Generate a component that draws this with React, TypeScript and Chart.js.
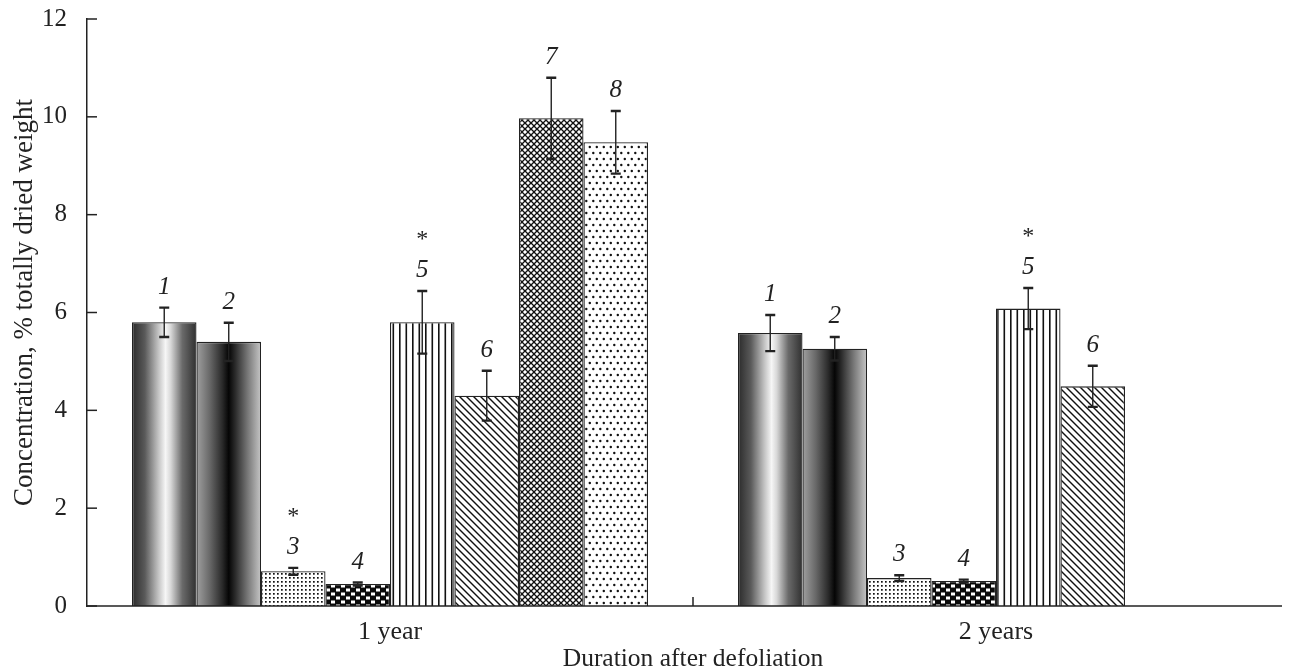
import React, { useEffect, useRef } from "react";
import { Chart, registerables } from "chart.js";

Chart.register(...registerables);

// ---------- data ----------
const categories = ["1 year", "2 years"];
const seriesNames = ["1", "2", "3", "4", "5", "6", "7", "8"];

const series1 = [5.8, 5.58];
const series2 = [5.4, 5.26];
const series3 = [0.71, 0.57];
const series4 = [0.45, 0.51];
const series5 = [5.8, 6.08];
const series6 = [4.3, 4.49];
const series7: (number | null)[] = [9.97, null];
const series8: (number | null)[] = [9.48, null];

const err1 = [0.3, 0.37];
const err2 = [0.39, 0.24];
const err3 = [0.07, 0.06];
const err4 = [0.03, 0.03];
const err5 = [0.64, 0.42];
const err6 = [0.51, 0.42];
const err7: (number | null)[] = [0.83, null];
const err8: (number | null)[] = [0.64, null];

// significance markers (*)
const star1 = [false, false];
const star2 = [false, false];
const star3 = [true, false];
const star4 = [false, false];
const star5 = [true, true];
const star6 = [false, false];
const star7 = [false, false];
const star8 = [false, false];

const yTicks = [0, 2, 4, 6, 8, 10, 12];

const xTitle = "Duration after defoliation";
const yTitle = "Concentration, % totally dried weight";

const allValues = [series1, series2, series3, series4, series5, series6, series7, series8];
const allErrors = [err1, err2, err3, err4, err5, err6, err7, err8];
const allStars = [star1, star2, star3, star4, star5, star6, star7, star8];

const CAT_PCT = 0.8515;
const FONT = "'Liberation Serif', 'Times New Roman', serif";
const INK = "#222";

// ---------- patterns ----------
function makeTile(w: number, h: number, draw: (c: CanvasRenderingContext2D) => void) {
  const cv = document.createElement("canvas");
  cv.width = w;
  cv.height = h;
  const c = cv.getContext("2d")!;
  c.fillStyle = "#fff";
  c.fillRect(0, 0, w, h);
  draw(c);
  return cv;
}

function buildPatterns(ctx: CanvasRenderingContext2D) {
  const dense = makeTile(4, 4, (c) => {
    c.fillStyle = "#111";
    c.fillRect(1, 1, 1.7, 1.7);
  });
  const checker = makeTile(10, 8, (c) => {
    c.fillStyle = "#0a0a0a";
    c.fillRect(0, 0, 10, 8);
    c.fillStyle = "#fff";
    c.fillRect(1, 0.5, 4, 3);
    c.fillRect(6, 4.5, 4, 3);
  });
  const vlines = makeTile(13, 2, (c) => {
    c.fillStyle = "#111";
    c.fillRect(2.5, 0, 1.6, 2);
    c.fillRect(9, 0, 1.6, 2);
  });
  const diag = makeTile(7, 7, (c) => {
    c.strokeStyle = "#111";
    c.lineWidth = 1.4;
    for (let k = -1; k <= 1; k++) {
      c.beginPath();
      c.moveTo(k * 7 - 1, -1);
      c.lineTo(k * 7 + 8, 8);
      c.stroke();
    }
  });
  const cross = makeTile(6, 6, (c) => {
    c.strokeStyle = "#111";
    c.lineWidth = 1.3;
    for (let k = -1; k <= 1; k++) {
      c.beginPath();
      c.moveTo(k * 6 - 1, -1);
      c.lineTo(k * 6 + 7, 7);
      c.stroke();
      c.beginPath();
      c.moveTo(k * 6 - 1, 7);
      c.lineTo(k * 6 + 7, -1);
      c.stroke();
    }
  });
  const sparse = makeTile(7, 12, (c) => {
    c.fillStyle = "#111";
    c.beginPath();
    c.arc(1.8, 3, 1.2, 0, Math.PI * 2);
    c.fill();
    c.beginPath();
    c.arc(5.3, 9, 1.2, 0, Math.PI * 2);
    c.fill();
  });
  return {
    dense: ctx.createPattern(dense, "repeat")!,
    checker: ctx.createPattern(checker, "repeat")!,
    vlines: ctx.createPattern(vlines, "repeat")!,
    diag: ctx.createPattern(diag, "repeat")!,
    cross: ctx.createPattern(cross, "repeat")!,
    sparse: ctx.createPattern(sparse, "repeat")!,
  };
}

const gradStops1: [number, string][] = [
  [0, "#2b2b2b"],
  [0.2, "#5a5a5a"],
  [0.42, "#c8c8c8"],
  [0.52, "#f6f6f6"],
  [0.6, "#d8d8d8"],
  [0.78, "#6a6a6a"],
  [1, "#303030"],
];
const gradStops2: [number, string][] = [
  [0, "#a0a0a0"],
  [0.2, "#6a6a6a"],
  [0.4, "#2a2a2a"],
  [0.5, "#050505"],
  [0.6, "#2a2a2a"],
  [0.8, "#7a7a7a"],
  [1, "#c6c6c6"],
];

function barGradient(ctx: any, stops: [number, string][]) {
  const chart = ctx.chart;
  const xs = chart.scales?.x;
  if (!xs || typeof ctx.dataIndex !== "number") return "#666";
  const n = chart.data.datasets.length;
  const catW = xs.width / chart.data.labels.length;
  const barW = (catW * CAT_PCT) / n;
  const center = xs.getPixelForValue(ctx.dataIndex);
  const left = center - (catW * CAT_PCT) / 2 + ctx.datasetIndex * barW;
  if (![left, barW].every((v) => Number.isFinite(v)) || barW <= 0) return "#666";
  const g = chart.ctx.createLinearGradient(left, 0, left + barW, 0);
  stops.forEach(([o, c]) => g.addColorStop(o, c));
  return g;
}

// ---------- plugins ----------
const decorPlugin = {
  id: "decor",
  afterDatasetsDraw(chart: any) {
    const { ctx } = chart;
    const ys = chart.scales.y;
    ctx.save();
    allValues.forEach((vals, i) => {
      const meta = chart.getDatasetMeta(i);
      meta.data.forEach((el: any, j: number) => {
        const v = vals[j];
        const e = allErrors[i][j];
        if (v === null || v === undefined) return;
        const x = el.x;
        const top = ys.getPixelForValue(v + (e || 0));
        const bot = ys.getPixelForValue(v - (e || 0));
        ctx.strokeStyle = INK;
        ctx.lineWidth = 1.4;
        ctx.beginPath();
        ctx.moveTo(x, top);
        ctx.lineTo(x, bot);
        ctx.stroke();
        ctx.lineWidth = 2.4;
        ctx.beginPath();
        ctx.moveTo(x - 5, top);
        ctx.lineTo(x + 5, top);
        ctx.moveTo(x - 5, bot);
        ctx.lineTo(x + 5, bot);
        ctx.stroke();
        // label
        ctx.fillStyle = INK;
        ctx.textAlign = "center";
        ctx.textBaseline = "alphabetic";
        ctx.font = `italic 25px ${FONT}`;
        const base = top - 14;
        ctx.fillText(seriesNames[i], x, base);
        if (allStars[i][j]) {
          ctx.font = `24px ${FONT}`;
          ctx.fillText("*", x, base - 31);
        }
      });
    });
    ctx.restore();
  },
  afterDraw(chart: any) {
    const { ctx, chartArea } = chart;
    const ys = chart.scales.y;
    const xs = chart.scales.x;
    ctx.save();
    ctx.strokeStyle = INK;
    ctx.lineWidth = 1.5;
    // x axis line (stops short of the right edge)
    ctx.beginPath();
    ctx.moveTo(chartArea.left, chartArea.bottom);
    ctx.lineTo(chartArea.right - 17, chartArea.bottom);
    ctx.stroke();
    // inward ticks
    ys.ticks.forEach((t: any) => {
      const y = ys.getPixelForValue(t.value);
      ctx.beginPath();
      ctx.moveTo(chartArea.left, y);
      ctx.lineTo(chartArea.left + 10, y);
      ctx.stroke();
    });
    for (let k = 0; k < categories.length - 1; k++) {
      const x = xs.getPixelForValue(k + 0.5);
      ctx.beginPath();
      ctx.moveTo(x, chartArea.bottom);
      ctx.lineTo(x, chartArea.bottom - 9);
      ctx.stroke();
    }
    // y axis title
    ctx.translate(25, (chartArea.top + chartArea.bottom) / 2 - 10);
    ctx.rotate(-Math.PI / 2);
    ctx.fillStyle = INK;
    ctx.font = `27px ${FONT}`;
    ctx.textAlign = "center";
    ctx.textBaseline = "middle";
    ctx.fillText(yTitle, 0, 0);
    ctx.restore();
  },
};

export default function App() {
  const ref = useRef<HTMLCanvasElement | null>(null);

  useEffect(() => {
    const canvas = ref.current!;
    const ctx2d = canvas.getContext("2d")!;
    const p = buildPatterns(ctx2d);
    const fills: any[] = [
      (c: any) => barGradient(c, gradStops1),
      (c: any) => barGradient(c, gradStops2),
      p.dense,
      p.checker,
      p.vlines,
      p.diag,
      p.cross,
      p.sparse,
    ];

    const chart = new Chart(canvas, {
      type: "bar",
      data: {
        labels: categories,
        datasets: allValues.map((vals, i) => ({
          label: seriesNames[i],
          data: vals,
          backgroundColor: fills[i],
          borderColor: INK,
          borderWidth: 1.3,
          categoryPercentage: CAT_PCT,
          barPercentage: 1,
        })),
      },
      options: {
        animation: false,
        responsive: true,
        maintainAspectRatio: false,
        layout: { padding: { top: 19, right: 0, left: 0, bottom: 0 } },
        plugins: {
          legend: { display: false },
          tooltip: { enabled: false },
        },
        scales: {
          x: {
            grid: { display: false, drawTicks: false },
            border: { display: false },
            ticks: {
              color: INK,
              font: { family: FONT, size: 26 },
              padding: 11,
            },
            title: {
              display: true,
              text: xTitle,
              color: INK,
              font: { family: FONT, size: 25.5, lineHeight: 1 },
              padding: { top: 0, bottom: -2 },
            },
            afterFit: (s: any) => {
              s.height = 64;
            },
          },
          y: {
            min: 0,
            max: 12,
            afterBuildTicks: (s: any) => {
              s.ticks = yTicks.map((v) => ({ value: v }));
            },
            grid: { display: false, drawTicks: false },
            border: { display: true, color: INK, width: 1.5 },
            ticks: {
              color: INK,
              font: { family: FONT, size: 25 },
              padding: 20,
            },
            title: { display: false },
            afterFit: (s: any) => {
              s.width = 87;
              s.paddingTop = 0;
              s.paddingBottom = 0;
            },
          },
        },
      },
      plugins: [decorPlugin],
    });
    return () => chart.destroy();
  }, []);

  return (
    <div style={{ position: "fixed", left: 0, top: 0, width: 1299, height: 670, background: "#fff" }}>
      <canvas ref={ref} />
    </div>
  );
}
